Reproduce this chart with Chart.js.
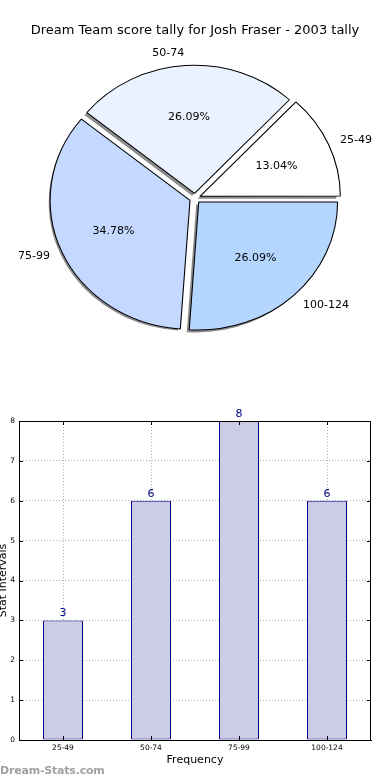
<!DOCTYPE html>
<html>
<head>
<meta charset="utf-8">
<script src="https://cdn.jsdelivr.net/npm/chart.js@4.4.0/dist/chart.umd.min.js"></script>
<style>
  body { margin: 0; background: #fff; width: 390px; height: 780px; overflow: hidden; position: relative; }
  #pieBox { position: absolute; left: 0; top: 0; width: 390px; height: 360px; }
  #barBox { position: absolute; left: 0; top: 400px; width: 390px; height: 380px; }
  .watermark { position: absolute; left: 0; top: 764px; font: bold 11px "DejaVu Sans", sans-serif; color: #a0a0a0; letter-spacing: -0.2px; }
</style>
</head>
<body>
<div id="pieBox"><canvas id="pieChart"></canvas></div>
<div id="barBox"><canvas id="barChart"></canvas></div>
<div class="watermark">Dream-Stats.com</div>
<script>
const categories = ['25-49', '50-74', '75-99', '100-124'];
const counts = [3, 6, 8, 6];
const sliceColors = ['#ffffff', '#eaf2ff', '#c5d8ff', '#b4d6ff'];
const yMax = 8;

Chart.defaults.font.family = "'DejaVu Sans', sans-serif";
Chart.defaults.color = '#000';

// pie is drawn clockwise from 3 o'clock, so feed the slices in reverse
const pieLabels = categories.slice().reverse();
const pieCounts = counts.slice().reverse();
const pieColors = sliceColors.slice().reverse();

const SX = 1.085; // the reference pie is a bit wider than tall

const pieShape = {
    id: 'pieShape',
    beforeDatasetsDraw(chart) {
        const ctx = chart.ctx;
        const arcs = chart.getDatasetMeta(0).data;
        const cx = arcs[0].x, cy = arcs[0].y;
        // shadow first
        ctx.save();
        ctx.translate(-2.5, 2.5);
        ctx.translate(cx, cy); ctx.scale(SX, 1); ctx.translate(-cx, -cy);
        ctx.fillStyle = '#8c8c8c';
        arcs.forEach(a => {
            const mid = (a.startAngle + a.endAngle) / 2;
            const off = (a.options.offset || 0) / 4;
            const ox = cx + Math.cos(mid) * off, oy = cy + Math.sin(mid) * off;
            ctx.beginPath();
            ctx.moveTo(ox, oy);
            ctx.arc(ox, oy, a.outerRadius, a.startAngle, a.endAngle);
            ctx.closePath();
            ctx.fill();
        });
        ctx.restore();
        // stretch the slices themselves
        ctx.save();
        ctx.translate(cx, cy); ctx.scale(SX, 1); ctx.translate(-cx, -cy);
    },
    afterDatasetsDraw(chart) {
        const ctx = chart.ctx;
        ctx.restore();
        const arcs = chart.getDatasetMeta(0).data;
        const values = chart.data.datasets[0].data;
        const total = values.reduce((s, v) => s + v, 0);
        ctx.save();
        ctx.font = "11px 'DejaVu Sans', sans-serif";
        ctx.fillStyle = '#000';
        ctx.textBaseline = 'middle';
        arcs.forEach((a, i) => {
            const cx = a.x, cy = a.y;
            const mid = (a.startAngle + a.endAngle) / 2;
            const off = (a.options.offset || 0) / 4;
            const r = a.outerRadius;
            const c = Math.cos(mid), s = Math.sin(mid);
            ctx.textAlign = 'center';
            ctx.fillText((values[i] / total * 100).toFixed(2) + '%',
                cx + c * (off + 0.6 * r) * SX, cy + s * (off + 0.6 * r));
            ctx.textAlign = c > 0 ? 'left' : 'right';
            ctx.fillText(chart.data.labels[i],
                cx + c * (off + 1.1 * r) * SX, cy + s * (off + 1.1 * r));
        });
        ctx.restore();
    }
};

new Chart(document.getElementById('pieChart'), {
    type: 'pie',
    data: {
        labels: pieLabels,
        datasets: [{
            data: pieCounts,
            backgroundColor: pieColors,
            borderColor: '#000',
            borderWidth: 1,
            offset: 20,
            hoverOffset: 0
        }]
    },
    options: {
        responsive: true,
        maintainAspectRatio: false,
        animation: false,
        rotation: 90,
        radius: 128,
        layout: { padding: { top: 0, bottom: 2 } },
        plugins: {
            legend: { display: false },
            tooltip: { enabled: false },
            title: {
                display: true,
                text: 'Dream Team score tally for Josh Fraser - 2003 tally',
                font: { size: 13, weight: 'normal' },
                color: '#000',
                padding: { top: 23, bottom: 0 }
            }
        }
    },
    plugins: [pieShape]
});

const barExtras = {
    id: 'barExtras',
    afterDatasetsDraw(chart) {
        const ctx = chart.ctx;
        const bars = chart.getDatasetMeta(0).data;
        const values = chart.data.datasets[0].data;
        ctx.save();
        ctx.font = "11px 'DejaVu Sans', sans-serif";
        ctx.fillStyle = '#000080';
        ctx.textAlign = 'center';
        ctx.textBaseline = 'alphabetic';
        bars.forEach((b, i) => ctx.fillText(values[i], b.x, b.y - 4));
        ctx.restore();
    },
    afterDraw(chart) {
        const {ctx, chartArea: a, scales} = chart;
        const L = Math.round(a.left), R = Math.round(a.right) - 1;
        const T = Math.round(a.top), B = Math.round(a.bottom);
        ctx.save();
        ctx.strokeStyle = '#000';
        ctx.lineWidth = 1;
        ctx.beginPath();
        ctx.moveTo(L, T + 0.5); ctx.lineTo(R + 1, T + 0.5);
        ctx.moveTo(R + 0.5, T); ctx.lineTo(R + 0.5, B);
        // inward tick marks on all four sides
        scales.y.ticks.forEach((t, i) => {
            const y = Math.round(scales.y.getPixelForTick(i)) + 0.5;
            ctx.moveTo(L, y); ctx.lineTo(L + 4, y);
            ctx.moveTo(R + 1, y); ctx.lineTo(R - 3, y);
        });
        scales.x.ticks.forEach((t, i) => {
            const x = Math.round(scales.x.getPixelForTick(i)) + 0.5;
            ctx.moveTo(x, B); ctx.lineTo(x, B - 4);
            ctx.moveTo(x, T); ctx.lineTo(x, T + 4);
        });
        ctx.stroke();
        ctx.restore();
    }
};

new Chart(document.getElementById('barChart'), {
    type: 'bar',
    data: {
        labels: categories,
        datasets: [{
            data: counts,
            backgroundColor: '#cccce6',
            borderColor: '#000080',
            borderWidth: 1,
            borderSkipped: false,
            barPercentage: 0.4545,
            categoryPercentage: 1
        }]
    },
    options: {
        responsive: true,
        maintainAspectRatio: false,
        animation: false,
        layout: { padding: { top: 21, left: 0, right: 19, bottom: 10 } },
        plugins: {
            legend: { display: false },
            tooltip: { enabled: false }
        },
        scales: {
            x: {
                z: 1,
                afterFit(scale) { scale.height = 30; },
                grid: { offset: false, color: '#b0b0b0', drawTicks: false },
                border: { color: '#000', dash: [1, 2] },
                ticks: { font: { size: 7.5 }, color: '#000', padding: 4 },
                title: { display: true, text: 'Frequency', font: { size: 11 }, color: '#000', padding: { top: 0, bottom: 3 } }
            },
            y: {
                z: 1,
                min: 0,
                max: yMax,
                afterFit(scale) { scale.width = 19; },
                grid: { color: '#b0b0b0', drawTicks: false },
                border: { color: '#000', dash: [1, 2] },
                ticks: { stepSize: 1, font: { size: 7.5 }, color: '#000', padding: 4 },
                title: { display: true, text: 'Stat Intervals', font: { size: 11 }, color: '#000', padding: { top: -3, bottom: 0 } }
            }
        }
    },
    plugins: [barExtras]
});
</script>
</body>
</html>
